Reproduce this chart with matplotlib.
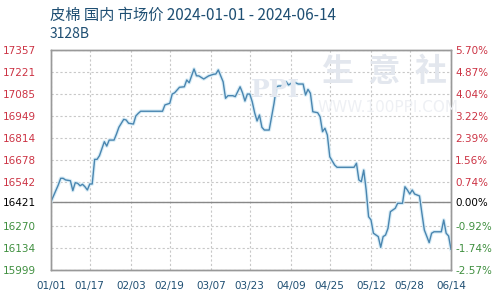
import matplotlib
matplotlib.use("Agg")
import matplotlib.pyplot as plt
from matplotlib.ticker import FixedLocator

plt.rcParams['font.family'] = ['Noto Sans CJK SC', 'DejaVu Sans']

title = "皮棉 国内 市场价 2024-01-01 - 2024-06-14"
subtitle = "3128B"
base_price = 16421
y_ticks = [15999, 16134, 16270, 16421, 16542, 16678, 16814, 16949, 17085, 17221, 17357]
pct_labels = ["-2.57%", "-1.74%", "-0.92%", "0.00%", "0.74%", "1.56%", "2.39%",
              "3.22%", "4.04%", "4.87%", "5.70%"]
x_tick_days = [0, 16, 33, 49, 66, 82, 99, 115, 132, 148, 165]
x_tick_labels = ["01/01", "01/17", "02/03", "02/19", "03/07", "03/23", "04/09",
                 "04/25", "05/12", "05/28", "06/14"]

days = [0, 3, 4, 5, 6, 8, 9, 10, 11, 12, 13, 14, 15, 16, 17, 18, 19, 20, 22, 23,
        24, 26, 27, 28, 30, 31, 32, 34, 35, 36, 37, 46, 47, 49, 50, 51, 53, 55, 56, 57,
        59, 60, 61, 63, 65, 67, 68, 69, 71, 72, 73, 75, 76, 78, 79, 80, 81, 82, 83, 84,
        85, 86, 87, 88, 90, 91, 92, 93, 94, 96, 97, 98, 99, 100, 102, 104, 105, 106, 107, 108,
        110, 111, 112, 113, 114, 115, 117, 118, 119, 125, 126, 127, 128, 129, 130, 131, 132, 133, 135, 136,
        137, 138, 139, 140, 142, 143, 145, 146, 147, 148, 149, 150, 152, 153, 154, 156, 157, 158, 161, 162,
        163, 164, 165]
prices = [16421, 16524, 16565, 16565, 16555, 16550, 16489, 16538, 16534, 16519, 16528, 16513, 16493, 16530, 16530, 16682, 16682, 16705, 16791, 16764,
          16801, 16801, 16838, 16880, 16929, 16925, 16905, 16900, 16950, 16966, 16979, 16979, 17018, 17028, 17085, 17093, 17127, 17130, 17172, 17155,
          17240, 17198, 17197, 17178, 17197, 17207, 17209, 17234, 17161, 17059, 17075, 17075, 17069, 17130, 17093, 17042, 17085, 17085, 17038, 16970,
          16919, 16956, 16880, 16863, 16863, 16945, 17028, 17130, 17135, 17135, 17161, 17141, 17151, 17161, 17147, 17147, 17079, 17114, 17090, 16976,
          16970, 16945, 16853, 16874, 16832, 16698, 16647, 16633, 16633, 16633, 16658, 16555, 16544, 16616, 16493, 16328, 16308, 16226, 16205, 16139,
          16205, 16215, 16256, 16359, 16380, 16411, 16411, 16513, 16493, 16468, 16493, 16468, 16456, 16349, 16246, 16168, 16226, 16235, 16235, 16308,
          16226, 16209, 16127]

red = "#cc3344"
green = "#3f8f3f"
blue_txt = "#1f4f73"
line_c = "#4a86b0"

fig = plt.figure(figsize=(5, 3), dpi=100)
ax = fig.add_axes([0.102, 0.1, 0.8, 0.7333])

ax.set_xlim(0, 165)
ax.set_ylim(15999, 17357)

# watermark
fig.text(0.77, 0.76, "生  意  社", fontsize=23, color="#e3e7ee", ha="center", va="center",
         fontweight="bold", zorder=0)
fig.text(0.775, 0.643, "WWW.100PPI.COM", fontsize=11, color="#eef0f4", ha="center", va="center",
         family="DejaVu Sans", zorder=0)
fig.text(0.551, 0.70, "PPI", fontsize=18, color="#e3e8f0", ha="center", va="center",
         family="DejaVu Serif", fontweight="bold", zorder=0)

ax.grid(True, color="#c8c8c8", linestyle=(0, (2, 2)), linewidth=0.8)
ax.axhline(base_price, color="#888888", linewidth=1.0, zorder=2)
ax.plot(days, prices, color="#d8ecf6", linewidth=2.6, zorder=3, solid_joinstyle="round")
ax.plot(days, prices, color=line_c, linewidth=1.0, zorder=4)

ax.xaxis.set_major_locator(FixedLocator(x_tick_days))
ax.set_xticklabels(x_tick_labels)
ax.yaxis.set_major_locator(FixedLocator(y_ticks))
ax.set_yticklabels([str(v) for v in y_ticks])
ax.tick_params(axis="y", length=0, labelsize=7.5, pad=11)
ax.tick_params(axis="x", length=0, labelsize=7.5, colors=blue_txt, pad=8)
for lbl, v in zip(ax.get_yticklabels(), y_ticks):
    lbl.set_color(red if v > base_price else ("black" if v == base_price else green))
    lbl.set_family("DejaVu Sans")
for lbl in ax.get_xticklabels():
    lbl.set_family("DejaVu Sans")

ax2 = ax.twinx()
ax2.set_ylim(ax.get_ylim())
ax2.yaxis.set_major_locator(FixedLocator(y_ticks))
ax2.set_yticklabels(pct_labels)
ax2.tick_params(length=0, labelsize=7.5, pad=3)
for lbl, v in zip(ax2.get_yticklabels(), y_ticks):
    lbl.set_color(red if v > base_price else ("black" if v == base_price else green))
    lbl.set_family("DejaVu Sans")

for a in (ax, ax2):
    for s in a.spines.values():
        s.set_color("#999999")
        s.set_linewidth(1.0)

fig.text(0.1, 0.95, title, fontsize=11, color=blue_txt, ha="left", va="center")
fig.text(0.1, 0.885, subtitle, fontsize=10, color=blue_txt, ha="left", va="center")

fig.savefig("out.png", dpi=100)
